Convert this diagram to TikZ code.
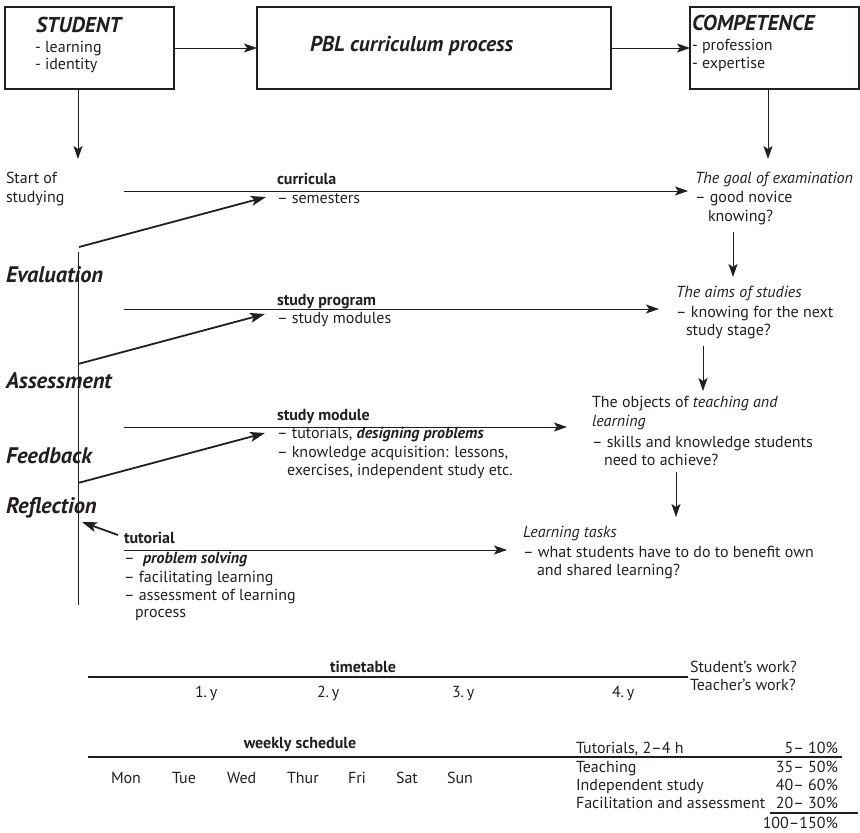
\documentclass[tikz,border=0pt]{standalone}
\usepackage{fontspec}
\setmainfont{PT Sans}
\usetikzlibrary{arrows.meta}
\definecolor{ink}{HTML}{231F20}
\begin{document}
\begin{tikzpicture}[x=1pt,y=-1pt,
  every node/.style={inner sep=0pt,outer sep=0pt,text=ink},
  box/.style={draw=ink,line width=1.3pt},
  body/.style={anchor=base west,font=\fontsize{16}{19}\selectfont},
  bodyb/.style={body,font=\fontsize{16}{19}\selectfont\bfseries},
  bodyi/.style={body,font=\fontsize{16}{19}\selectfont\itshape},
  head/.style={anchor=base west,font=\fontsize{21.5}{24}\selectfont\bfseries\itshape},
  side/.style={anchor=base west,font=\fontsize{22.5}{25}\selectfont\bfseries\itshape},
  arr/.style={draw=ink,line width=1pt,-{Stealth[length=13pt,width=9pt,inset=3pt]}},
  thickarr/.style={draw=ink,line width=1.8pt,-{Stealth[length=15pt,width=10pt,inset=3.5pt]}},
  rule/.style={draw=ink,line width=1.1pt},
  vline/.style={draw=ink,line width=1pt}]
\useasboundingbox (0,0) rectangle (860,833);

% top row of boxes
\node[box,minimum width=169pt,minimum height=82pt] (student) at (89.5,48) {};
\node[box,minimum width=354pt,minimum height=82pt] (pbl) at (434,48) {};
\node[box,minimum width=169pt,minimum height=82pt] (comp) at (774.5,48) {};
\node[head] (stuT) at (36,32) {STUDENT};
\node[body] (stu1) at (35,52) {- learning};
\node[body] (stu2) at (35,69) {- identity};
\node[head] (pblT) at (310,51) {PBL curriculum process};
\node[head] (comT) at (692,30) {COMPETENCE};
\node[body] (com1) at (692,50) {- profession};
\node[body] (com2) at (692,68) {- expertise};
\draw[arr] (student.east) -- (pbl.west);
\draw[arr] (pbl.east) -- (comp.west);
\coordinate (sDown) at (78,159);
\coordinate (cDown) at (768,159);
\draw[arr] (student.south -| sDown) -- (sDown);
\draw[arr] (comp.south -| cDown) -- (cDown);

% left column
\node[body] (start1) at (6,183) {Start of};
\node[body] (start2) at (6,202) {studying};
\node[side] (eval) at (6,282) {Evaluation};
\node[side] (assess) at (6,388) {Assessment};
\node[side] (feed) at (6,463) {Feedback};
\node[side] (refl) at (6,513) {Reflection};
\coordinate (vTop) at (78,252);
\coordinate (vBot) at (78,605);
\draw[vline] (vTop) -- (vBot);

% curricula level
\node[bodyb] (curT) at (277,184) {curricula};
\node[body] (cur1) at (277,203) {– semesters};
\node[bodyi] (goalT) at (695,183) {The goal of examination};
\node[body] (goal1) at (695,202) {– good novice};
\node[body] (goal2) at (708,221) {knowing?};
\coordinate (curS) at (124,191);
\coordinate (curE) at (688,191);
\draw[arr] (curS) -- (curE);
\coordinate (d1S) at (79,247);
\coordinate (d1E) at (266,197);
\draw[thickarr] (d1S) -- (d1E);

% study program level
\node[bodyb] (progT) at (277,305) {study program};
\node[body] (prog1) at (277,323) {– study modules};
\node[bodyi] (aimsT) at (676,297) {The aims of studies};
\node[body] (aims1) at (676,317) {– knowing for the next};
\node[body] (aims2) at (686,335) {study stage?};
\coordinate (progS) at (124,309);
\coordinate (progE) at (659,309);
\draw[arr] (progS) -- (progE);
\coordinate (d2S) at (78,364);
\coordinate (d2E) at (265,314);
\draw[thickarr] (d2S) -- (d2E);
\coordinate (gaS) at (733,232);
\coordinate (gaE) at (733,277);
\draw[arr] (gaS) -- (gaE);

% study module level
\node[bodyb] (modT) at (277,420) {study module};
\node[body] (mod1) at (277,438) {– tutorials, \textbf{\textit{designing problems}}};
\node[body] (mod2) at (277,457) {– knowledge acquisition: lessons,};
\node[body] (mod3) at (287,475) {exercises, independent study etc.};
\node[body] (objT) at (592,407) {The objects of \textit{teaching and}};
\node[bodyi] (obj1) at (592,426) {learning};
\node[body] (obj2) at (592,447) {– skills and knowledge students};
\node[body] (obj3) at (604,465) {need to achieve?};
\coordinate (modS) at (124,427);
\coordinate (modE) at (567,427);
\draw[arr] (modS) -- (modE);
\coordinate (d3S) at (78,483);
\coordinate (d3E) at (265,433);
\draw[thickarr] (d3S) -- (d3E);
\coordinate (aoS) at (703,346);
\coordinate (aoE) at (703,391);
\draw[arr] (aoS) -- (aoE);

% tutorial level
\node[bodyb] (tutT) at (124,543) {tutorial};
\node[body] (tut1) at (124,563) {– \ \textbf{\textit{problem solving}}};
\node[body] (tut2) at (124,582) {– facilitating learning};
\node[body] (tut3) at (124,600) {– assessment of learning};
\node[body] (tut4) at (135,617) {process};
\node[bodyi] (taskT) at (523,537) {Learning tasks};
\node[body] (task1) at (523,557) {– what students have to do to benefit own};
\node[body] (task2) at (537,575) {and shared learning?};
\coordinate (tutS) at (124,550);
\coordinate (tutE) at (507,550);
\draw[arr] (tutS) -- (tutE);
\coordinate (refS) at (118,535);
\coordinate (refE) at (82,522);
\draw[thickarr] (refS) -- (refE);
\coordinate (otS) at (676,472);
\coordinate (otE) at (676,517);
\draw[arr] (otS) -- (otE);

% timetable
\node[bodyb,anchor=base] (tt) at (363,672) {timetable};
\draw[rule] (88,677) -- (688,677);
\node[body] (y1) at (195,697) {1.\,y};
\node[body] (y2) at (317,697) {2.\,y};
\node[body] (y3) at (452,697) {3.\,y};
\node[body] (y4) at (612,697) {4.\,y};
\node[body] (sw) at (690,672) {Student’s work?};
\node[body] (tw) at (690,690) {Teacher’s work?};

% weekly schedule
\node[bodyb,anchor=base] (ws) at (300,748) {weekly schedule};
\draw[rule] (88,757) -- (842,757);
\node[body] (mon) at (111,783) {Mon};
\node[body] (tue) at (172,783) {Tue};
\node[body] (wed) at (227,783) {Wed};
\node[body] (thu) at (287,783) {Thur};
\node[body] (fri) at (348,783) {Fri};
\node[body] (sat) at (396,783) {Sat};
\node[body] (sun) at (447,783) {Sun};

% workload table
\node[body] (l1) at (576,753) {Tutorials, 2–4 h};
\node[body] (l2) at (576,772) {Teaching};
\node[body] (l3) at (576,790) {Independent study};
\node[body] (l4) at (576,808) {Facilitation and assessment};
\node[body,anchor=base east] (p1) at (838,753) {5– 10\%};
\node[body,anchor=base east] (p2) at (838,772) {35– 50\%};
\node[body,anchor=base east] (p3) at (838,790) {40– 60\%};
\node[body,anchor=base east] (p4) at (838,808) {20– 30\%};
\draw[rule] (770,813) -- (858,813);
\node[body,anchor=base east] (tot) at (838,828) {100–150\%};
\end{tikzpicture}
\end{document}
